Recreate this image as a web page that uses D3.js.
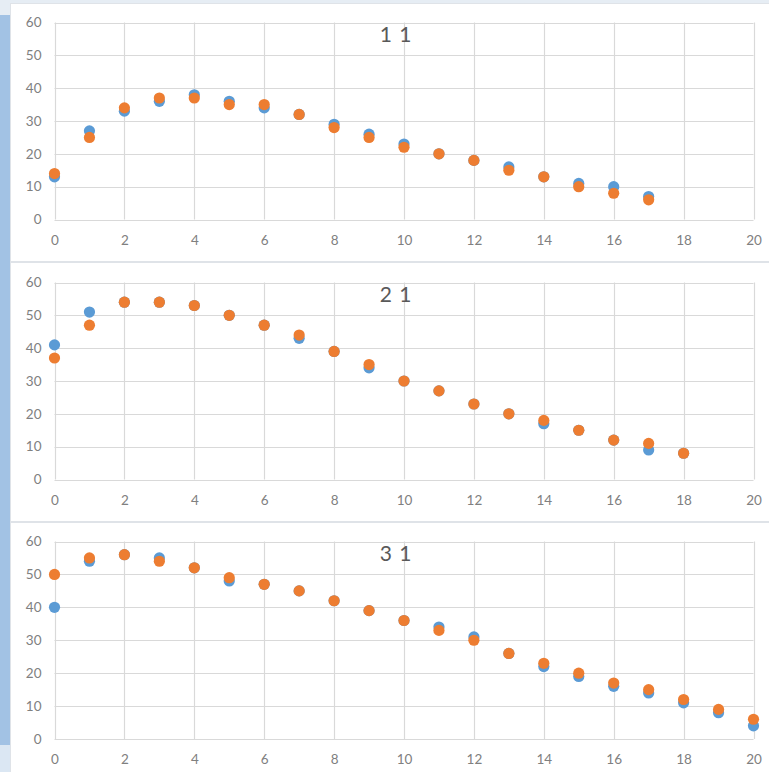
<!DOCTYPE html>
<html>
<head>
<meta charset="utf-8">
<script src="https://cdn.jsdelivr.net/npm/d3@7"></script>
<style>
  html, body { margin: 0; padding: 0; background: #ffffff; }
  svg { display: block; }
</style>
</head>
<body>
<svg id="chart" width="769" height="772"></svg>
<script>
// Three stacked scatter panels, two series each (blue and orange).
const panelTitles = ["1 1", "2 1", "3 1"];

const blue1   = [13, 27, 33, 36, 38, 36, 34, 32, 29, 26, 23, 20, 18, 16, 13, 11, 10, 7];
const orange1 = [14, 25, 34, 37, 37, 35, 35, 32, 28, 25, 22, 20, 18, 15, 13, 10, 8, 6];

const blue2   = [41, 51, 54, 54, 53, 50, 47, 43, 39, 34, 30, 27, 23, 20, 17, 15, 12, 9, 8];
const orange2 = [37, 47, 54, 54, 53, 50, 47, 44, 39, 35, 30, 27, 23, 20, 18, 15, 12, 11, 8];

const blue3   = [40, 54, 56, 55, 52, 48, 47, 45, 42, 39, 36, 34, 31, 26, 22, 19, 16, 14, 11, 8, 4];
const orange3 = [50, 55, 56, 54, 52, 49, 47, 45, 42, 39, 36, 33, 30, 26, 23, 20, 17, 15, 12, 9, 6];

const xTicks = [0, 2, 4, 6, 8, 10, 12, 14, 16, 18, 20];
const yTicks = [0, 10, 20, 30, 40, 50, 60];

const seriesBlue = [blue1, blue2, blue3];
const seriesOrange = [orange1, orange2, orange3];

// Layout for each stacked chart box: box top/bottom and plot area top/bottom
const boxes = [
  { boxTop: 3,   boxBottom: 261, plotTop: 22.5,  plotBottom: 219.5 },
  { boxTop: 262, boxBottom: 521, plotTop: 282.5, plotBottom: 479.5 },
  { boxTop: 522, boxBottom: 772, plotTop: 541.5, plotBottom: 739 }
];

const BLUE = "#5b9bd5";
const ORANGE = "#ed7d31";
const GRID = "#d9d9d9";
const LABEL = "#808080";
const TITLE = "#595959";
const FONT = "Lato, 'Open Sans', sans-serif";

const svg = d3.select("#chart");

// page frame
svg.append("rect").attr("x", 0).attr("y", 0).attr("width", 769).attr("height", 772).attr("fill", "#e6edf4");
svg.append("rect").attr("x", 0).attr("y", 15).attr("width", 10).attr("height", 730).attr("fill", "#a2c2e4");
svg.append("rect").attr("x", 0).attr("y", 745).attr("width", 10).attr("height", 27).attr("fill", "#dbe7f3");

const x = d3.scaleLinear().domain([0, 20]).range([54.5, 753.5]);

boxes.forEach((b, i) => {
  const g = svg.append("g");

  g.append("rect")
    .attr("x", 10.5).attr("y", b.boxTop + 0.5)
    .attr("width", 769).attr("height", b.boxBottom - b.boxTop)
    .attr("fill", "#ffffff").attr("stroke", "#dfe3e8");

  const y = d3.scaleLinear().domain([0, 60]).range([b.plotBottom, b.plotTop]);

  // gridlines
  g.append("g").selectAll("line.h").data(yTicks).join("line")
    .attr("x1", x(0)).attr("x2", x(20))
    .attr("y1", d => Math.round(y(d)) + 0.5).attr("y2", d => Math.round(y(d)) + 0.5)
    .attr("stroke", GRID).attr("stroke-width", 1.2);
  g.append("g").selectAll("line.v").data(xTicks).join("line")
    .attr("x1", d => Math.round(x(d)) + 0.5).attr("x2", d => Math.round(x(d)) + 0.5)
    .attr("y1", y(60)).attr("y2", y(0))
    .attr("stroke", GRID).attr("stroke-width", 1.2);

  // axes built with d3 axis generators, domain and tick marks hidden
  const yAxis = g.append("g")
    .attr("transform", `translate(${x(0) - 13},0)`)
    .call(d3.axisLeft(y).tickValues(yTicks).tickSize(0).tickPadding(0));
  const xAxis = g.append("g")
    .attr("transform", `translate(0,${y(0) + 15})`)
    .call(d3.axisBottom(x).tickValues(xTicks).tickSize(0).tickPadding(0));
  [yAxis, xAxis].forEach(a => {
    a.select(".domain").remove();
    a.selectAll("text")
      .attr("fill", LABEL)
      .style("font-family", FONT)
      .style("font-size", "13.5px");
  });
  xAxis.selectAll("text").attr("dy", "0.75em");

  // panel title
  g.append("text")
    .attr("x", 396).attr("y", b.plotTop + 19.5)
    .attr("text-anchor", "middle")
    .attr("fill", TITLE)
    .style("font-family", FONT)
    .style("font-size", "21px")
    .style("letter-spacing", "1px")
    .text(panelTitles[i]);

  // points: blue first, orange on top
  g.append("g").selectAll("circle").data(seriesBlue[i]).join("circle")
    .attr("cx", (d, k) => x(k)).attr("cy", d => y(d))
    .attr("r", 5.6).attr("fill", BLUE);
  g.append("g").selectAll("circle").data(seriesOrange[i]).join("circle")
    .attr("cx", (d, k) => x(k)).attr("cy", d => y(d))
    .attr("r", 5.6).attr("fill", ORANGE);
});
</script>
</body>
</html>
